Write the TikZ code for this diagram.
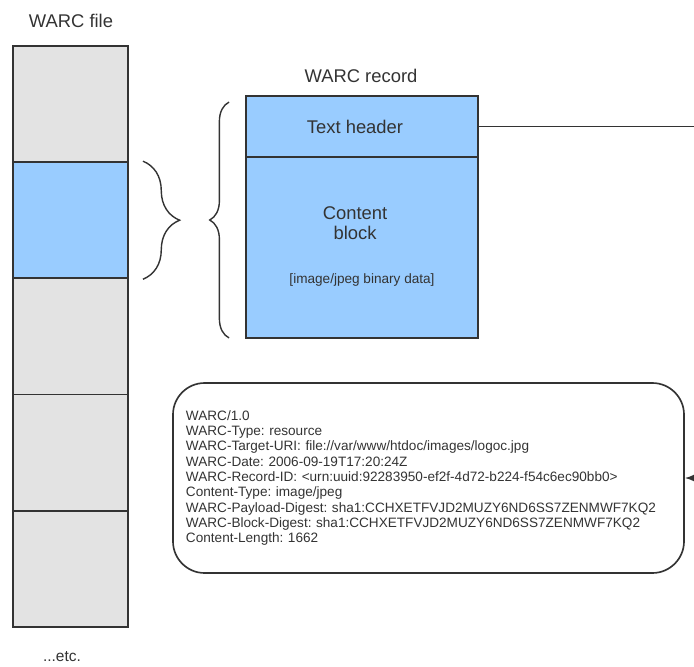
\documentclass[tikz,border=0pt]{standalone}
\usepackage{fontspec}
\setmainfont{Liberation Sans}
\usetikzlibrary{calc,arrows.meta,decorations.pathreplacing}
\definecolor{cellgray}{HTML}{E3E3E3}
\definecolor{cellblue}{HTML}{99CCFF}
\definecolor{ink}{HTML}{333333}
\tikzset{
  cell/.style={draw=ink, line width=1.6pt, minimum width=3.45cm, minimum height=3.486cm, inner sep=0pt},
  recpart/.style={draw=ink, line width=1.6pt, fill=cellblue, minimum width=6.96cm, inner sep=0pt},
  bigtext/.style={text=ink, font=\fontsize{15.7}{17}\selectfont, inner sep=0pt},
  smalltext/.style={text=ink, font=\fontsize{11.6}{13.1}\selectfont, inner sep=0pt},
  curly/.style={draw=ink, line width=1.2pt, decorate},
  note/.style={draw=ink, line width=1.4pt, rounded corners=0.95cm, minimum width=15.33cm, minimum height=5.7cm,
    text width=14.55cm, inner xsep=0.39cm, align=left, text=ink, font=\fontsize{11.6}{13.1}\selectfont\frenchspacing},
  conn/.style={draw=ink, line width=1.4pt, -{Latex[length=9pt,width=7pt]}}
}
\begin{document}
\begin{tikzpicture}[x=0.03cm, y=-0.03cm]
  %%%%% START %%%%%
  \clip (0,0) rectangle (694,667);

  % the file, record after record
  \node[bigtext] (filetitle) at (71,21) {WARC file};
  \foreach \i/\c in {1/cellgray,2/cellblue,3/cellgray,4/cellgray,5/cellgray}
    \node[cell, fill=\c] (f\i) at (70.5, {104+116.2*(\i-1)}) {};
  \node[text=ink, font=\fontsize{13.2}{15}\selectfont, inner sep=0pt] (etc) at (62,657) {...etc.};

  % one record
  \node[bigtext] (rectitle) at (361,76) {WARC record};
  \node[recpart, minimum height=1.83cm] (hdr) at (362,126.5) {};
  \node[recpart, minimum height=5.43cm] (body) at (362,247.5) {};
  \node[bigtext] (hdrlabel) at (355,127) {Text header};
  \node[bigtext, align=center] (bodylabel) at (355,223) {Content\\block};
  \node[smalltext] (bodydata) at (362,280) {[image/jpeg binary data]};

  \draw[curly, decoration={brace, amplitude=1.1cm}] ($(f2.north east)+(14,0)$) -- ($(f2.south east)+(14,0)$);
  \draw[curly, decoration={brace, amplitude=0.58cm}] ($(body.south west)+(-16,-1)$) -- ($(hdr.north west)+(-16,7)$);

  % the header, written out
  \node[note] (headertext) at (428.5,478) {WARC/1.0\\
    WARC-Type: resource\\
    WARC-Target-URI: file://var/www/htdoc/images/logoc.jpg\\
    WARC-Date: 2006-09-19T17:20:24Z\\
    WARC-Record-ID: <urn:uuid:92283950-ef2f-4d72-b224-f54c6ec90bb0>\\
    Content-Type: image/jpeg\\
    WARC-Payload-Digest: sha1:CCHXETFVJD2MUZY6ND6SS7ZENMWF7KQ2\\
    WARC-Block-Digest: sha1:CCHXETFVJD2MUZY6ND6SS7ZENMWF7KQ2\\
    Content-Length: 1662};

  \draw[conn] (hdr.east) -- ++(240,0) |- (headertext.east);
  %%%%% END %%%%%
\end{tikzpicture}
\end{document}
